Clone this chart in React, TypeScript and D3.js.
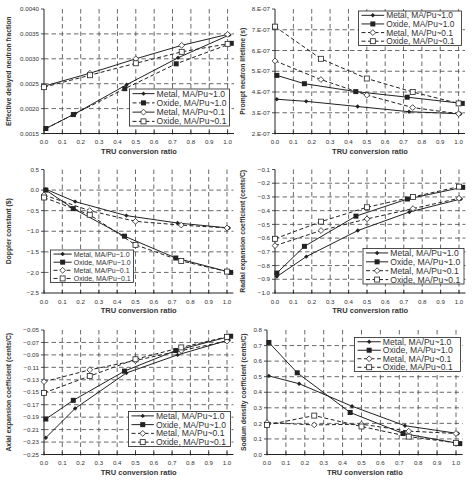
import React from "react";
import * as d3 from "d3";

// ---------- data ----------
const seriesNames = ["Metal, MA/Pu~1.0", "Oxide, MA/Pu~1.0", "Metal, MA/Pu~0.1", "Oxide, MA/Pu~0.1"];
const xMetal10 = [0.01, 0.17, 0.45, 0.73, 1.01];
const xOxide10 = [0.01, 0.16, 0.44, 0.72, 1.02];
const xMetal01 = [0, 0.25, 0.5, 0.75, 1.0];
const xOxide01 = [0, 0.25, 0.5, 0.75, 1.0];
const xTicks = [0, 0.1, 0.2, 0.3, 0.4, 0.5, 0.6, 0.7, 0.8, 0.9, 1.0];
const xTitle = "TRU conversion ratio";

// Panel 1: effective delayed neutron fraction
const betaMetal10 = [0.0016, 0.0019, 0.00248, 0.00302, 0.00348];
const betaOxide10 = [0.0016, 0.00188, 0.0024, 0.0029, 0.00331];
const betaMetal01 = [0.00245, 0.00271, 0.003, 0.00327, 0.00349];
const betaOxide01 = [0.00243, 0.00267, 0.00291, 0.00314, 0.0033];
const betaTicks = [0.0015, 0.002, 0.0025, 0.003, 0.0035, 0.004];

// Panel 2: prompt neutron lifetime
const lifeMetal10 = [3.65e-7, 3.55e-7, 3.3e-7, 3.05e-7, 2.95e-7];
const lifeOxide10 = [4.8e-7, 4.4e-7, 4.02e-7, 3.75e-7, 3.45e-7];
const lifeMetal01 = [5.5e-7, 4.6e-7, 3.85e-7, 3.25e-7, 2.95e-7];
const lifeOxide01 = [7.15e-7, 5.6e-7, 4.65e-7, 4.0e-7, 3.45e-7];
const lifeTicks = [2e-7, 3e-7, 4e-7, 5e-7, 6e-7, 7e-7, 8e-7];

// Panel 3: Doppler constant
const dopMetal10 = [0.02, -0.28, -0.62, -0.8, -0.92];
const dopOxide10 = [0.0, -0.45, -1.12, -1.65, -2.0];
const dopMetal01 = [-0.12, -0.5, -0.76, -0.85, -0.92];
const dopOxide01 = [-0.18, -0.6, -1.33, -1.72, -1.98];
const dopTicks = [-2.5, -2.0, -1.5, -1.0, -0.5, 0.0, 0.5];

// Panel 4: radial expansion coefficient
const radMetal10 = [-0.88, -0.735, -0.545, -0.41, -0.315];
const radOxide10 = [-0.855, -0.66, -0.44, -0.315, -0.23];
const radMetal01 = [-0.655, -0.545, -0.46, -0.385, -0.31];
const radOxide01 = [-0.605, -0.48, -0.375, -0.3, -0.225];
const radTicks = [-1.0, -0.9, -0.8, -0.7, -0.6, -0.5, -0.4, -0.3, -0.2, -0.1];

// Panel 5: axial expansion coefficient
const axMetal10 = [-0.223, -0.176, -0.119, -0.09, -0.066];
const axOxide10 = [-0.193, -0.163, -0.116, -0.083, -0.06];
const axMetal01 = [-0.133, -0.114, -0.099, -0.083, -0.068];
const axOxide01 = [-0.151, -0.124, -0.097, -0.078, -0.061];
const axTicks = [-0.25, -0.23, -0.21, -0.19, -0.17, -0.15, -0.13, -0.11, -0.09, -0.07, -0.05];

// Panel 6: sodium density coefficient
const naMetal10 = [0.505, 0.455, 0.31, 0.185, 0.135];
const naOxide10 = [0.72, 0.525, 0.27, 0.135, 0.07];
const naMetal01 = [0.205, 0.19, 0.195, 0.15, 0.135];
const naOxide01 = [0.19, 0.25, 0.18, 0.115, 0.075];
const naTicks = [0, 0.1, 0.2, 0.3, 0.4, 0.5, 0.6, 0.7, 0.8];

// ---------- layout ----------
const FONT = "'Liberation Sans', Arial, Helvetica, sans-serif";
const INK = "#222";
const xs = [xMetal10, xOxide10, xMetal01, xOxide01];
const markers = ["dot", "fsquare", "odiamond", "osquare"];

type Panel = {
  x0: number; x1: number; top: number; bottom: number;
  ticks: number[]; fmt: (v: number) => string;
  yTitle: string; titleX: number;
  ys: number[][]; dashed: boolean[];
  legend: { x: number; y: number; w: number; h: number; fs: number };
};

const f1 = d3.format(".1f");
const panels: Panel[] = [
  {
    x0: 44, x1: 227.6, top: 9, bottom: 133.5, ticks: betaTicks, fmt: d3.format(".4f"),
    yTitle: "Effective delayed neutron fraction", titleX: 9,
    ys: [betaMetal10, betaOxide10, betaMetal01, betaOxide01], dashed: [false, true, false, true],
    legend: { x: 129.5, y: 89, w: 100, h: 37, fs: 8.6 },
  },
  {
    x0: 275, x1: 458.6, top: 9, bottom: 133.5, ticks: lifeTicks, fmt: (v) => `${Math.round(v * 1e7)}.E-07`,
    yTitle: "Prompt neutron lifetime (s)", titleX: 243,
    ys: [lifeMetal10, lifeOxide10, lifeMetal01, lifeOxide01], dashed: [false, false, true, true],
    legend: { x: 358.5, y: 11, w: 103, h: 34.5, fs: 8.4 },
  },
  {
    x0: 44, x1: 227, top: 169.5, bottom: 293, ticks: dopTicks, fmt: f1,
    yTitle: "Doppler constant ($)", titleX: 9,
    ys: [dopMetal10, dopOxide10, dopMetal01, dopOxide01], dashed: [false, false, true, true],
    legend: { x: 50.5, y: 250, w: 83, h: 32.5, fs: 7 },
  },
  {
    x0: 275, x1: 459, top: 169.5, bottom: 293, ticks: radTicks, fmt: f1,
    yTitle: "Radial expansion coefficient (cents/C)", titleX: 243,
    ys: [radMetal10, radOxide10, radMetal01, radOxide01], dashed: [false, false, true, true],
    legend: { x: 363, y: 248.5, w: 101, h: 35.5, fs: 8.6 },
  },
  {
    x0: 44, x1: 227, top: 330, bottom: 454.5, ticks: axTicks, fmt: d3.format(".2f"),
    yTitle: "Axial expansion coefficient (cents/C)", titleX: 9,
    ys: [axMetal10, axOxide10, axMetal01, axOxide01], dashed: [false, false, true, true],
    legend: { x: 128.5, y: 411.5, w: 102, h: 35, fs: 8.6 },
  },
  {
    x0: 267, x1: 456, top: 330, bottom: 454.5, ticks: naTicks, fmt: f1,
    yTitle: "Sodium density coefficient (cents/C)", titleX: 244,
    ys: [naMetal10, naOxide10, naMetal01, naOxide01], dashed: [false, false, true, true],
    legend: { x: 354.5, y: 337.5, w: 106, h: 34, fs: 8.6 },
  },
];

function Marker({ kind, x, y }: { kind: string; x: number; y: number }) {
  if (kind === "dot")
    return <path d={`M${x},${y - 2.2}L${x + 2.2},${y}L${x},${y + 2.2}L${x - 2.2},${y}Z`} fill={INK} />;
  if (kind === "fsquare") return <rect x={x - 2.5} y={y - 2.5} width={5} height={5} fill={INK} />;
  if (kind === "odiamond")
    return <path d={`M${x},${y - 2.9}L${x + 2.9},${y}L${x},${y + 2.9}L${x - 2.9},${y}Z`} fill="#fff" stroke={INK} strokeWidth={0.8} />;
  return <rect x={x - 2.5} y={y - 2.5} width={5} height={5} fill="#fff" stroke={INK} strokeWidth={0.8} />;
}

function PanelView({ p }: { p: Panel }) {
  const x = d3.scaleLinear().domain([0, 1]).range([p.x0, p.x1]);
  const y = d3.scaleLinear().domain([p.ticks[0], p.ticks[p.ticks.length - 1]]).range([p.bottom, p.top]);
  const xEnd = x(1.035);
  const line = d3.line<[number, number]>().x((d) => x(d[0])).y((d) => y(d[1]));
  const grid = { stroke: "#444", strokeWidth: 0.8, strokeDasharray: "4.5,3" };
  const L = p.legend;
  const rowH = L.h / 4;
  const sampleW = L.w * 0.22;
  return (
    <g>
      {xTicks.slice(1).map((t) => (
        <line key={"vx" + t} x1={x(t)} x2={x(t)} y1={p.top} y2={p.bottom} {...grid} />
      ))}
      {p.ticks.slice(1, -1).map((t) => (
        <line key={"hy" + t} x1={p.x0} x2={xEnd} y1={y(t)} y2={y(t)} {...grid} />
      ))}
      <line x1={p.x0} x2={p.x0} y1={p.top} y2={p.bottom} stroke={INK} strokeWidth={1} />
      <line x1={p.x0} x2={xEnd} y1={p.bottom} y2={p.bottom} stroke={INK} strokeWidth={1} />
      {p.ticks.map((t) => (
        <g key={"yt" + t}>
          <line x1={p.x0 - 3} x2={p.x0} y1={y(t)} y2={y(t)} stroke={INK} strokeWidth={0.8} />
          <text x={p.x0 - 5} y={y(t) + 2.2} fontSize={6.2} textAnchor="end" fill="#333" fontFamily={FONT}>
            {p.fmt(t)}
          </text>
        </g>
      ))}
      {xTicks.map((t) => (
        <g key={"xt" + t}>
          <line x1={x(t)} x2={x(t)} y1={p.bottom - 3} y2={p.bottom + 1} stroke={INK} strokeWidth={0.8} />
          <text x={x(t)} y={p.bottom + 10.5} fontSize={6.2} textAnchor="middle" fill="#333" fontFamily={FONT}>
            {f1(t)}
          </text>
        </g>
      ))}
      <text x={(p.x0 + xEnd) / 2} y={p.bottom + 20} fontSize={7.5} fontWeight="bold" textAnchor="middle" fill="#333" fontFamily={FONT}>
        {xTitle}
      </text>
      <text
        transform={`translate(${p.titleX},${(p.top + p.bottom) / 2}) rotate(-90)`}
        fontSize={6.8} fontWeight="bold" textAnchor="middle" dy="0.35em" fill="#333" fontFamily={FONT}
      >
        {p.yTitle}
      </text>
      {p.ys.map((vals, i) => {
        const pts = vals.map((v, j) => [xs[i][j], v] as [number, number]);
        return (
          <g key={"s" + i}>
            <path d={line(pts) || ""} fill="none" stroke={INK} strokeWidth={1} strokeDasharray={p.dashed[i] ? "4,2.5" : undefined} />
            {pts.map((d, j) => (
              <Marker key={j} kind={markers[i]} x={x(d[0])} y={y(d[1])} />
            ))}
          </g>
        );
      })}
      <rect x={L.x} y={L.y} width={L.w} height={L.h} fill="#fff" stroke={INK} strokeWidth={0.8} />
      {seriesNames.map((name, i) => {
        const cy = L.y + rowH * (i + 0.5);
        return (
          <g key={"lg" + i}>
            <line x1={L.x + 3} x2={L.x + 3 + sampleW} y1={cy} y2={cy} stroke={INK} strokeWidth={1}
              strokeDasharray={p.dashed[i] ? "4,2.5" : undefined} />
            <Marker kind={markers[i]} x={L.x + 3 + sampleW / 2} y={cy} />
            <text x={L.x + 5 + sampleW} y={cy + L.fs * 0.35} fontSize={L.fs} fill="#333" fontFamily={FONT}>
              {name}
            </text>
          </g>
        );
      })}
    </g>
  );
}

export default function App() {
  return (
    <svg width={476} height={490} style={{ position: "absolute", left: 0, top: 0, background: "#fff" }}>
      <rect width={476} height={490} fill="#fff" />
      {panels.map((p, i) => (
        <PanelView key={i} p={p} />
      ))}
    </svg>
  );
}
